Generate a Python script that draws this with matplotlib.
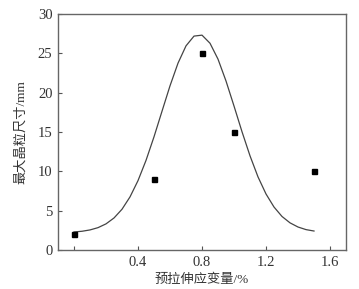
import matplotlib
matplotlib.use("Agg")
import matplotlib.pyplot as plt

# measured points
strain = [0.0, 0.5, 0.8, 1.0, 1.5]
grain = [2, 9, 25, 15, 10]

# fitted curve
curve_x = [0.00, 0.05, 0.10, 0.15, 0.20, 0.25, 0.30, 0.35, 0.40, 0.45,
           0.50, 0.55, 0.60, 0.65, 0.70, 0.75, 0.80, 0.85, 0.90, 0.95,
           1.00, 1.05, 1.10, 1.15, 1.20, 1.25, 1.30, 1.35, 1.40, 1.45, 1.50]
curve_y = [2.29, 2.38, 2.55, 2.84, 3.32, 4.07, 5.18, 6.75, 8.82, 11.39,
           14.39, 17.64, 20.87, 23.75, 25.95, 27.19, 27.31, 26.28, 24.26, 21.48,
           18.30, 15.03, 11.97, 9.29, 7.12, 5.46, 4.26, 3.45, 2.92, 2.59, 2.41]

xticks = [0.0, 0.4, 0.8, 1.2, 1.6]
xticklabels = ["", "0.4", "0.8", "1.2", "1.6"]
yticks = [0, 5, 10, 15, 20, 25, 30]

serif = ["Liberation Serif", "DejaVu Serif"]
cjk = ["Liberation Serif", "Noto Sans CJK SC"]
txt = "#333333"

fig = plt.figure(figsize=(3.59, 2.89), dpi=100)
ax = fig.add_axes([0.1616, 0.135, 0.8022, 0.8166])

ax.plot(curve_x, curve_y, color="#444444", lw=0.9)
ax.plot(strain, grain, ls="none", marker="s", ms=3.6, color="black")

ax.set_xlim(-0.1, 1.7)
ax.set_ylim(0, 30)
ax.set_xticks(xticks)
ax.set_xticklabels(xticklabels, family=serif, fontsize=10.5, color=txt)
ax.set_yticks(yticks)
ax.set_yticklabels([str(v) for v in yticks], family=serif, fontsize=10.5, color=txt)
ax.tick_params(direction="in", length=3, width=0.8, color="#555555", pad=4)

for s in ax.spines.values():
    s.set_color("#666666")
    s.set_linewidth(1.0)

ax.set_xlabel("预拉伸应变量/%", family=cjk, fontsize=9.5, color=txt, labelpad=4)
ax.set_ylabel("最大晶粒尺寸/mm", family=cjk, fontsize=9.5, color=txt, labelpad=8)

fig.savefig("out.png", dpi=100)
